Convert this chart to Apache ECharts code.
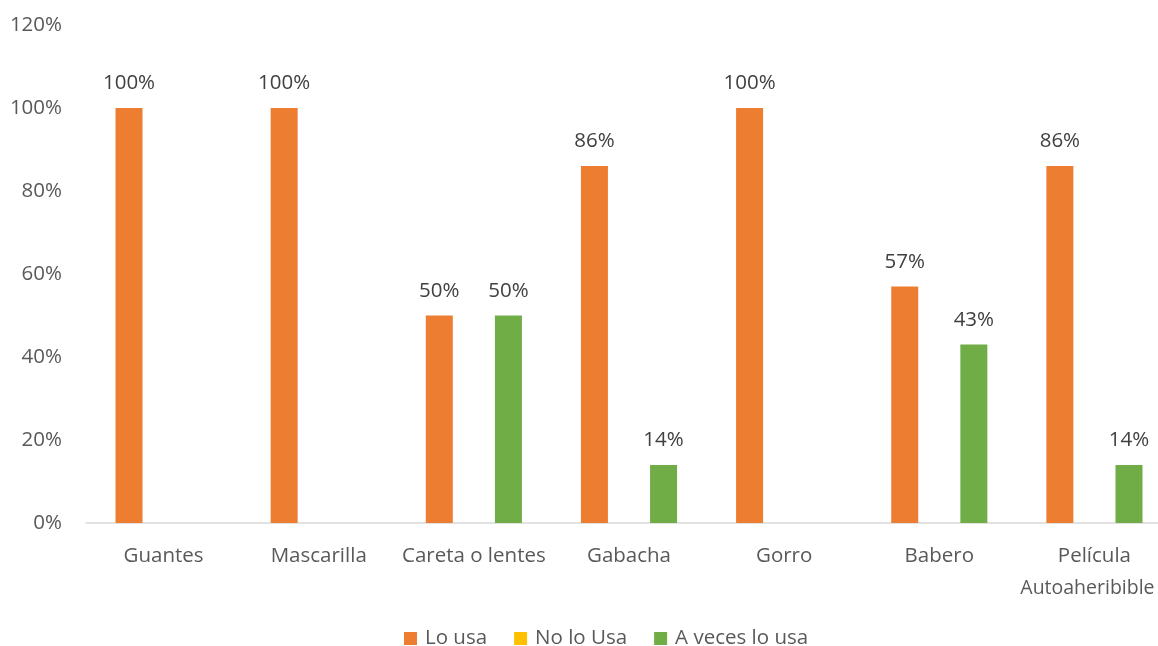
<!DOCTYPE html>
<html>
<head>
<meta charset="utf-8">
<script src="https://cdn.jsdelivr.net/npm/echarts@6/dist/echarts.min.js"></script>
<style>
  html, body { margin: 0; padding: 0; background: #ffffff; overflow: hidden; }
  /* the plot runs a little past the right edge of the page */
  #chart { width: 1172px; height: 646px; }
</style>
</head>
<body>
<div id="chart"></div>
<script>
// Equipment items surveyed
const categories = ['Guantes', 'Mascarilla', 'Careta o lentes', 'Gabacha', 'Gorro', 'Babero', 'Película\nAutoaheribible'];
// Share of respondents per answer (percent)
const loUsa = [100, 100, 50, 86, 100, 57, 86];
const noLoUsa = [0, 0, 0, 0, 0, 0, 0];
const aVecesLoUsa = [0, 0, 50, 14, 0, 43, 14];
// Value axis ticks
const yMin = 0, yMax = 120, yStep = 20;

const FONT = '"Open Sans", "Noto Sans", sans-serif';
const FS = 20.5;

function valueLabel(p) {
  return p.value > 0 ? p.value + '%' : '';
}

function barSeries(name, data, color) {
  return {
    name: name,
    type: 'bar',
    data: data,
    barWidth: 27,
    barGap: '28%',
    itemStyle: { color: color },
    label: {
      show: true,
      position: 'top',
      distance: 14,
      formatter: valueLabel,
      color: '#404040',
      fontFamily: FONT,
      fontSize: FS
    }
  };
}

// second line of a wrapped name is nudged left so it stays inside the page
function categoryLabel(v) {
  if (v.indexOf('\n') < 0) return v;
  return v.split('\n').map((s, i) => i === 0 ? s : '{w|' + s + '}').join('\n');
}

const chart = echarts.init(document.getElementById('chart'), null, { renderer: 'canvas' });
chart.setOption({
  animation: false,
  backgroundColor: '#ffffff',
  grid: { left: 86, top: 25, right: 0, height: 498, containLabel: false },
  legend: {
    data: ['Lo usa', 'No lo Usa', 'A veces lo usa'],
    left: 399,
    top: 623,
    itemWidth: 13,
    itemHeight: 13,
    itemGap: 27,
    icon: 'rect',
    textStyle: { color: '#595959', fontFamily: FONT, fontSize: FS, padding: [0, 0, 0, 3] }
  },
  xAxis: {
    type: 'category',
    data: categories,
    axisLine: { lineStyle: { color: '#d9d9d9', width: 1.5 } },
    axisTick: { show: false },
    axisLabel: {
      color: '#595959',
      fontFamily: FONT,
      fontSize: FS,
      lineHeight: 32,
      margin: 17,
      interval: 0,
      formatter: categoryLabel,
      rich: {
        w: {
          color: '#595959',
          fontFamily: FONT,
          fontSize: 19.5,
          lineHeight: 32,
          padding: [0, 14, 0, 0]
        }
      }
    }
  },
  yAxis: {
    type: 'value',
    min: yMin,
    max: yMax,
    interval: yStep,
    axisLine: { show: false },
    axisTick: { show: false },
    splitLine: { show: false },
    axisLabel: {
      color: '#595959',
      fontFamily: FONT,
      fontSize: FS,
      margin: 24,
      formatter: v => v + '%'
    }
  },
  series: [
    barSeries('Lo usa', loUsa, '#ed7d31'),
    barSeries('No lo Usa', noLoUsa, '#ffc000'),
    barSeries('A veces lo usa', aVecesLoUsa, '#70ad47')
  ]
});
</script>
</body>
</html>
